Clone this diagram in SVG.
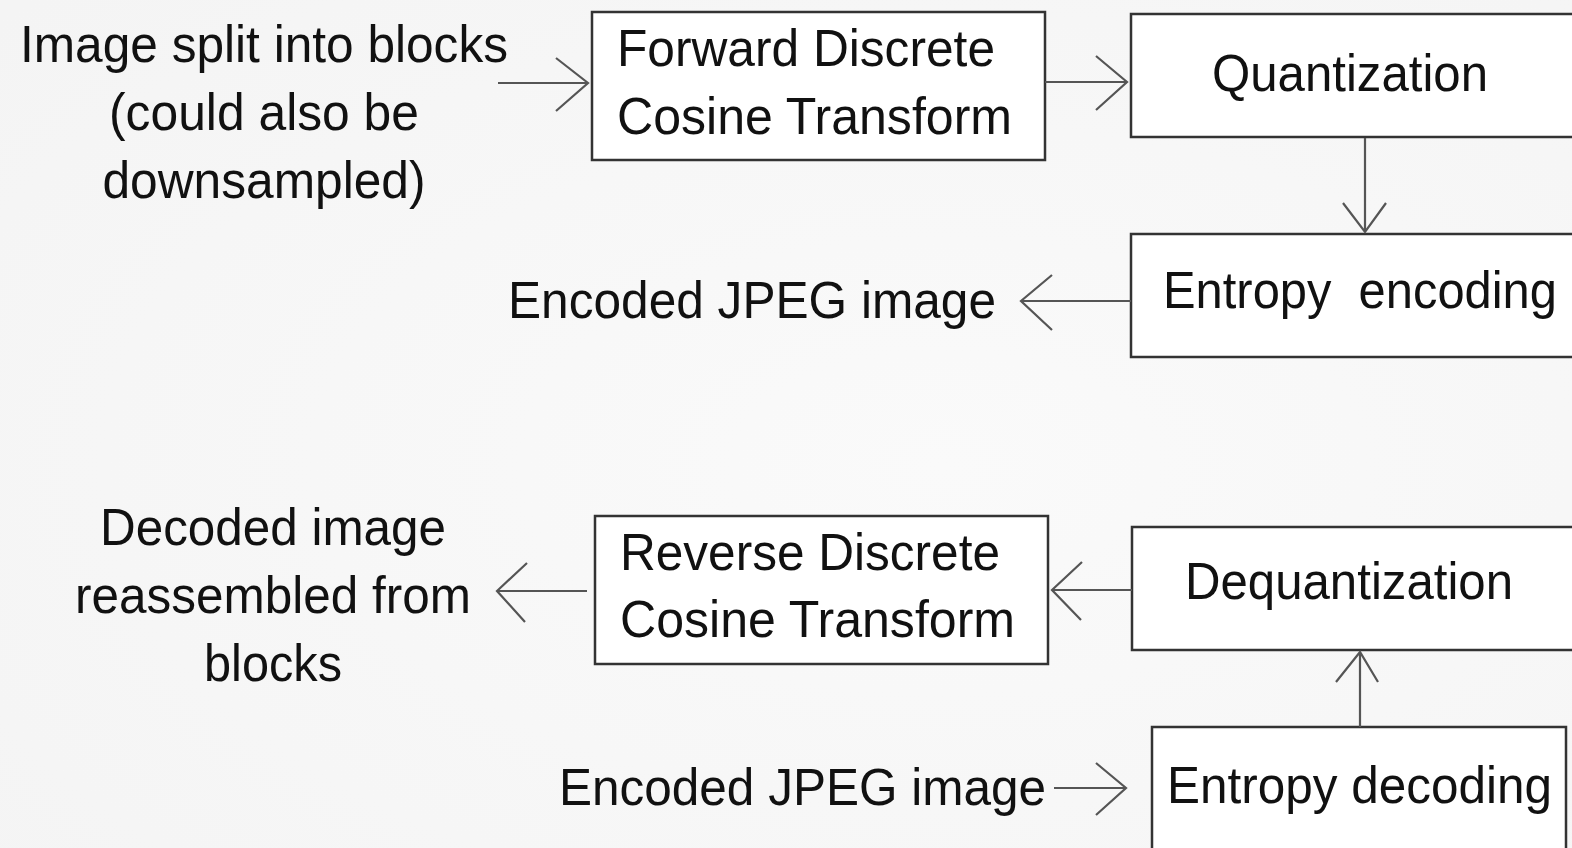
<svg xmlns="http://www.w3.org/2000/svg" width="1572" height="848" viewBox="0 0 1572 848">
<defs>
<radialGradient id="bg" cx="0.6" cy="0.55" r="0.8">
<stop offset="0" stop-color="#fafafa"/>
<stop offset="1" stop-color="#f4f4f4"/>
</radialGradient>
<style>
.box{fill:#ffffff;stroke:#333333;stroke-width:2.5}
.t{font-family:"Liberation Sans",Arial,sans-serif;font-size:52px;fill:#111111}
.c{text-anchor:middle}
.ln{fill:none;stroke:#555555;stroke-width:2.2}
</style>
</defs>
<rect width="1572" height="848" fill="url(#bg)"/>

<g id="input-label">
<text class="t" x="20" y="62" textLength="488" lengthAdjust="spacingAndGlyphs">Image split into blocks</text>
<text class="t c" x="264" y="130" textLength="310" lengthAdjust="spacingAndGlyphs">(could also be</text>
<text class="t c" x="264" y="198" textLength="323" lengthAdjust="spacingAndGlyphs">downsampled)</text>
</g>

<g id="fdct">
<rect class="box" x="592" y="12" width="453" height="148"/>
<text class="t" x="617" y="66" textLength="378" lengthAdjust="spacingAndGlyphs">Forward Discrete</text>
<text class="t" x="617" y="134" textLength="395" lengthAdjust="spacingAndGlyphs">Cosine Transform</text>
</g>

<g id="quantization">
<rect class="box" x="1131" y="14" width="460" height="123"/>
<text class="t" x="1212" y="91" textLength="276" lengthAdjust="spacingAndGlyphs">Quantization</text>
</g>

<g id="entropy-encoding">
<rect class="box" x="1131" y="234" width="460" height="123"/>
<text class="t" x="1163" y="308" textLength="394" lengthAdjust="spacingAndGlyphs" xml:space="preserve">Entropy  encoding</text>
</g>

<g id="encoded-output">
<text class="t" x="508" y="318" textLength="488" lengthAdjust="spacingAndGlyphs">Encoded JPEG image</text>
</g>

<g id="decoded-label">
<text class="t c" x="273" y="545" textLength="346" lengthAdjust="spacingAndGlyphs">Decoded image</text>
<text class="t c" x="273" y="613" textLength="396" lengthAdjust="spacingAndGlyphs">reassembled from</text>
<text class="t c" x="273" y="681" textLength="138" lengthAdjust="spacingAndGlyphs">blocks</text>
</g>

<g id="rdct">
<rect class="box" x="595" y="516" width="453" height="148"/>
<text class="t" x="620" y="570" textLength="380" lengthAdjust="spacingAndGlyphs">Reverse Discrete</text>
<text class="t" x="620" y="637" textLength="395" lengthAdjust="spacingAndGlyphs">Cosine Transform</text>
</g>

<g id="dequantization">
<rect class="box" x="1132" y="527" width="460" height="123"/>
<text class="t" x="1185" y="599" textLength="328" lengthAdjust="spacingAndGlyphs">Dequantization</text>
</g>

<g id="entropy-decoding">
<rect class="box" x="1152" y="727" width="414" height="140"/>
<text class="t" x="1167" y="803" textLength="385" lengthAdjust="spacingAndGlyphs">Entropy decoding</text>
</g>

<g id="encoded-input">
<text class="t" x="559" y="805" textLength="487" lengthAdjust="spacingAndGlyphs">Encoded JPEG image</text>
</g>

<g id="connectors">
<path class="ln" d="M498 83 H588 M556 58 L588 83 L556 111"/>
<path class="ln" d="M1045 82 H1127 M1096 56 L1127 82 L1096 110"/>
<path class="ln" d="M1365 138 V232 M1343 203 L1365 232 L1386 203"/>
<path class="ln" d="M1131 301 H1021 M1052 275 L1021 301 L1052 330"/>
<path class="ln" d="M1360 727 V652 M1336 682 L1360 652 L1378 682"/>
<path class="ln" d="M1132 590 H1052 M1082 562 L1052 590 L1081 620"/>
<path class="ln" d="M587 591 H497 M527 563 L497 591 L525 622"/>
<path class="ln" d="M1054 788 H1126 M1096 763 L1126 788 L1096 815"/>
</g>
</svg>
